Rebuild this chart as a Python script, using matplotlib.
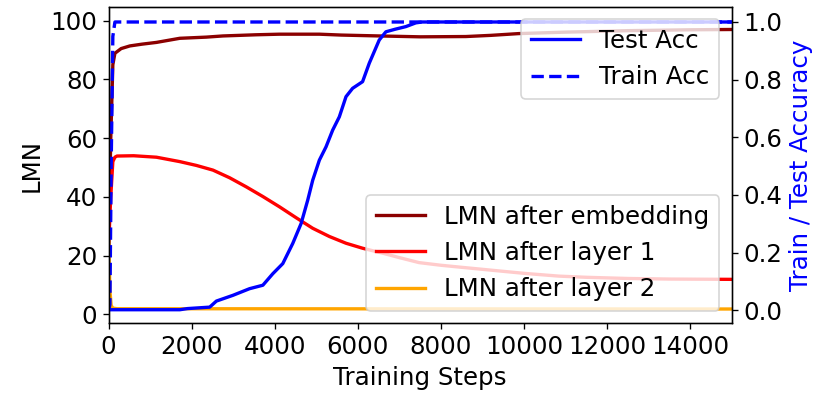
import matplotlib.pyplot as plt

# training accuracy (right axis)
train_steps = [0, 30, 60, 100, 150, 15000]
train_acc = [0.0, 0.02, 0.5, 0.95, 1.0, 1.0]

test_steps = [0, 30, 1712, 1900, 2432, 2593, 2992, 3392, 3712, 3952, 4192, 4432,
              4633, 4792, 4912, 5073, 5233, 5393, 5553, 5714, 5873, 6113, 6274,
              6514, 6674, 6900, 7155, 7395, 7550, 15000]
test_acc = [0.0, 0.002, 0.002, 0.006, 0.011, 0.032, 0.052, 0.075, 0.087, 0.127,
            0.162, 0.232, 0.301, 0.382, 0.451, 0.521, 0.567, 0.625, 0.671, 0.741,
            0.770, 0.793, 0.857, 0.9375, 0.966, 0.975, 0.984, 0.997, 1.0, 1.0]

# LMN (left axis)
emb_steps = [0, 50, 100, 150, 300, 510, 800, 1150, 1712, 2350, 2750, 3150,
             3550, 4110, 5073, 5600, 6514, 7500, 8600, 9200, 9870, 11000,
             12500, 14000, 15000]
lmn_emb = [24, 60, 85, 88.9, 90.5, 91.4, 92.0, 92.6, 94.0, 94.4, 94.8, 95.0,
           95.2, 95.4, 95.4, 95.1, 94.8, 94.5, 94.6, 95.0, 95.6, 96.1,
           96.6, 96.9, 97.0]

l1_steps = [0, 50, 100, 150, 200, 600, 1150, 1712, 2112, 2512, 2912, 3313,
            3713, 4113, 4512, 4912, 5313, 5714, 6113, 6600, 7000, 7474, 8000,
            8500, 9230, 10040, 10840, 11500, 12500, 13500, 15000]
lmn_l1 = [24, 40, 52, 53.5, 53.9, 54.0, 53.5, 52.0, 50.7, 49.1, 46.5, 43.4,
          40.1, 36.6, 32.9, 29.3, 26.5, 24.2, 22.5, 20.8, 19.3, 17.6, 16.7,
          16.0, 15.0, 13.9, 13.0, 12.6, 12.2, 12.0, 11.9]

l2_steps = [0, 30, 60, 100, 200, 15000]
lmn_l2 = [25, 8, 3, 2.1, 1.9, 1.8]

plt.rcParams['font.size'] = 14.7

fig, ax1 = plt.subplots(figsize=(819 / 120, 400 / 120), dpi=120)
fig.subplots_adjust(left=0.1327, right=0.8934, top=0.9825, bottom=0.1918)

ax1.plot(emb_steps, lmn_emb, color='darkred', lw=2, label='LMN after embedding')
ax1.plot(l1_steps, lmn_l1, color='red', lw=2, label='LMN after layer 1')
ax1.plot(l2_steps, lmn_l2, color='orange', lw=2, label='LMN after layer 2')
ax1.set_xlim(0, 15000)
ax1.set_ylim(-3.06, 104.66)
ax1.set_xlabel('Training Steps')
ax1.set_ylabel('LMN')
ax1.legend(loc='lower right')

ax2 = ax1.twinx()
ax2.plot(test_steps, test_acc, color='blue', lw=2, label='Test Acc')
ax2.plot(train_steps, train_acc, color='blue', lw=2, ls='--', label='Train Acc')
ax2.set_ylim(-0.045, 1.052)
ax2.set_ylabel('Train / Test Accuracy', color='blue')
ax2.legend(loc='upper right')

plt.savefig('out.png', dpi=120)
